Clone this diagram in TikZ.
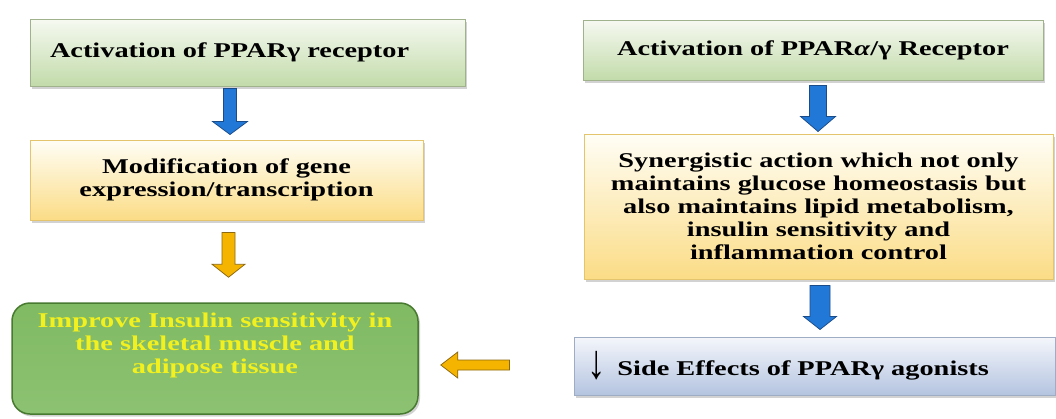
\documentclass[tikz,border=0pt]{standalone}
\usepackage{fontspec}
\usepackage{graphicx}
\newfontfamily\boxfont{Liberation Serif}[FakeStretch=1.35]
\usetikzlibrary{shadows,calc}
\definecolor{recTop}{RGB}{246,249,241}
\definecolor{recBot}{RGB}{194,219,170}
\definecolor{recLine}{RGB}{160,178,140}
\definecolor{modTop}{RGB}{255,254,246}
\definecolor{modBot}{RGB}{251,220,134}
\definecolor{modLine}{RGB}{228,196,108}
\definecolor{sideTop}{RGB}{244,246,251}
\definecolor{sideBot}{RGB}{180,196,224}
\definecolor{sideLine}{RGB}{158,172,196}
\definecolor{impTop}{RGB}{128,186,98}
\definecolor{impMid}{RGB}{84,148,50}
\definecolor{impBot}{RGB}{140,194,114}
\definecolor{impLine}{RGB}{72,122,48}
\definecolor{impText}{RGB}{242,240,30}
\definecolor{arrBlue}{RGB}{34,120,214}
\definecolor{arrBlueLine}{RGB}{27,76,138}
\definecolor{arrOrange}{RGB}{245,180,0}
\definecolor{arrOrangeLine}{RGB}{140,104,16}
\tikzset{every picture/.style={line width=0.75pt}}

\begin{document}
\begin{tikzpicture}[x=1pt,y=-1pt,
  box/.style={inner sep=0pt, align=center, line width=1pt,
    drop shadow={shadow xshift=2pt, shadow yshift=-2.5pt, opacity=0.35},
    font={\boxfont\bfseries\fontsize{21}{23}\selectfont}},
  recbox/.style={box, draw=recLine, top color=recTop, bottom color=recBot},
  modbox/.style={box, draw=modLine, top color=modTop, bottom color=modBot},
  sidebox/.style={box, draw=sideLine, top color=sideTop, bottom color=sideBot},
  impbox/.style={box, draw=impLine, line width=1.5pt, rounded corners=18pt, text=impText,
    top color=impTop, middle color=impMid, bottom color=impBot},
  % block arrows: shaft half width / head half width / head length
  fatdown/.style n args={3}{line width=1pt, to path={let \p1=(\tikztostart), \p2=(\tikztotarget) in
    (\x1-#1,\y1) -- (\x1+#1,\y1) -- (\x1+#1,\y2+#3) -- (\x1+#2,\y2+#3) -- (\x1,\y2)
    -- (\x1-#2,\y2+#3) -- (\x1-#1,\y2+#3) -- cycle}},
  fatleft/.style n args={3}{line width=1pt, to path={let \p1=(\tikztostart), \p2=(\tikztotarget) in
    (\x1,\y1+#1) -- (\x1,\y1-#1) -- (\x2+#3,\y1-#1) -- (\x2+#3,\y1-#2) -- (\x2,\y1)
    -- (\x2+#3,\y1+#2) -- (\x2+#3,\y1+#1) -- cycle}},
  bluearrow/.style={fill=arrBlue, draw=arrBlueLine},
  orangearrow/.style={fill=arrOrange, draw=arrOrangeLine}]
\path[use as bounding box, fill=white] (0,0) rectangle (1056,418);

% left column
\node[recbox, minimum width=435pt, minimum height=67pt, text width=395pt, inner xsep=20pt, align=left]
  (recL) at (247.5,52.5) {Activation of PPARγ receptor};
\node[modbox, minimum width=393pt, minimum height=80pt] (modL) at (226.5,180)
  {Modification of gene\\expression/transcription};
\node[impbox, minimum width=406pt, minimum height=111pt] (impL) at (215,358.5)
  {Improve Insulin sensitivity in\\the skeletal muscle and\\adipose tissue\\[8pt]\mbox{}};

% right column
\node[recbox, minimum width=460pt, minimum height=60pt] (recR) at (813,50)
  {Activation of PPAR\textit{α}/γ Receptor};
\node[modbox, minimum width=469pt, minimum height=145pt] (synR) at (818.5,206.5)
  {Synergistic action which not only\\maintains glucose homeostasis but\\also maintains lipid metabolism,\\insulin sensitivity and\\inflammation control};
\node[sidebox, minimum width=481pt, minimum height=58pt, text width=455pt, inner xsep=13pt, align=left]
  (sideR) at (814.5,366) {\raisebox{-3pt}{\scalebox{1.3}[2.3]{↓}}\hspace{12pt}Side Effects of PPARγ agonists};

% arrow ends
\coordinate (upLs) at ($(recL.south)+(-17.5,2)$);
\coordinate (upLe) at ($(modL.north)+(3.5,-5)$);
\coordinate (downLs) at ($(modL.south)+(2,12)$);
\coordinate (downLe) at ($(impL.north)+(13.5,-25)$);
\coordinate (upRs) at ($(recR.south)+(5,5)$);
\coordinate (upRe) at ($(synR.north)+(-0.5,-2)$);
\coordinate (downRs) at ($(synR.south)+(1.5,6)$);
\coordinate (downRe) at ($(sideR.north)+(5.5,-7)$);
\coordinate (toImps) at ($(sideR.west)+(-64,-1)$);
\coordinate (toImpe) at ($(impL.east)+(22,6.5)$);

\draw[bluearrow] (upLs) to[fatdown={6.5pt}{17.5pt}{13pt}] (upLe);
\draw[orangearrow] (downLs) to[fatdown={6.5pt}{16.5pt}{13pt}] (downLe);
\draw[bluearrow] (upRs) to[fatdown={8.5pt}{17.5pt}{15pt}] (upRe);
\draw[bluearrow] (downRs) to[fatdown={10pt}{16.5pt}{13pt}] (downRe);
\draw[orangearrow] (toImps) to[fatleft={5pt}{13pt}{17pt}] (toImpe);
\end{tikzpicture}
\end{document}
